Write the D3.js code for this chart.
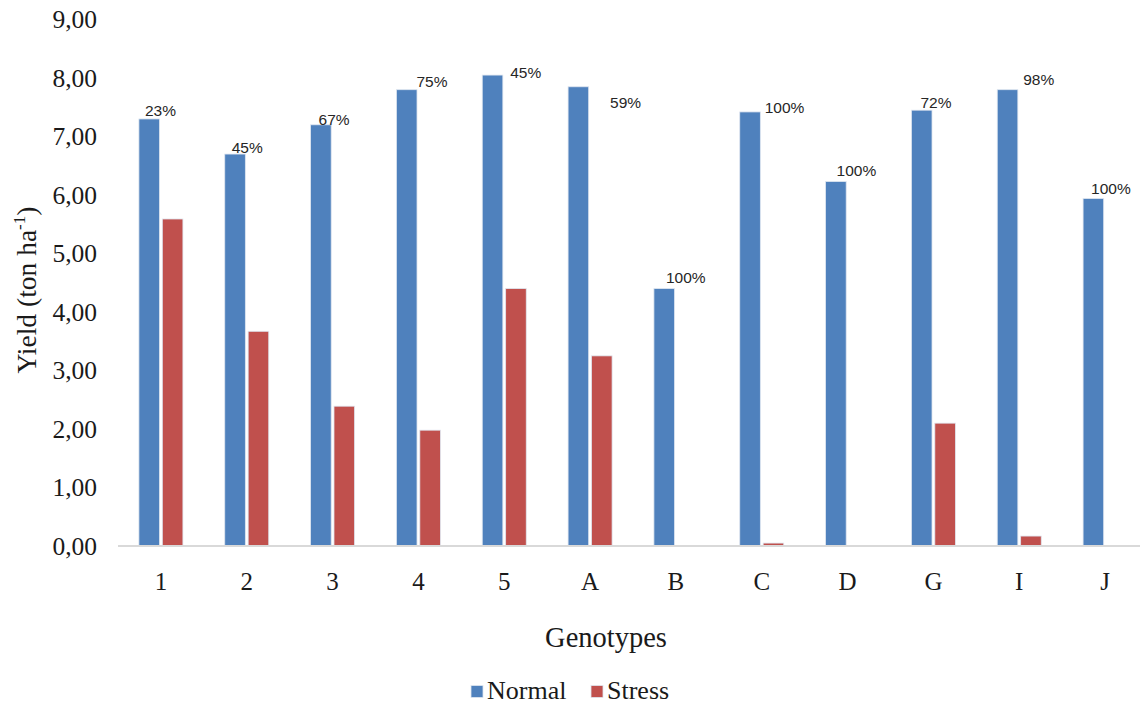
<!DOCTYPE html>
<html>
<head>
<meta charset="utf-8">
<script src="https://cdn.jsdelivr.net/npm/d3@7"></script>
<style>
  html, body { margin: 0; padding: 0; background: #ffffff; }
  svg { display: block; }
</style>
</head>
<body>
<svg id="chart" width="1140" height="704"></svg>
<script>
// Genotypes and yields (ton/ha) under normal and stress conditions
const genotypes = ["1", "2", "3", "4", "5", "A", "B", "C", "D", "G", "I", "J"];
const normalYield = [7.30, 6.70, 7.20, 7.80, 8.05, 7.85, 4.40, 7.42, 6.23, 7.45, 7.80, 5.94];
const stressYield = [5.59, 3.67, 2.39, 1.98, 4.40, 3.25, 0.00, 0.05, 0.00, 2.10, 0.17, 0.00];
// Yield reduction labels shown above the Normal bars
const reductionLabels = ["23%", "45%", "67%", "75%", "45%", "59%", "100%", "100%", "100%", "72%", "98%", "100%"];
const seriesNames = ["Normal", "Stress"];
const yTicks = [0, 1, 2, 3, 4, 5, 6, 7, 8, 9];

// Hand-placed label nudges (px) relative to the Normal bar's top-left corner
const labelNudge = [[6, -9], [7, -7], [8, -5], [20, -8], [28, -3], [42, 16],
                    [12, -11], [25, -5], [11, -11], [9, -8], [26, -10], [8, -10]];

const colors = { Normal: "#4F81BD", Stress: "#C0504D" };
const serif = "'Liberation Serif', 'Times New Roman', serif";

const svg = d3.select("#chart");
const plot = { left: 118, right: 1148, top: 19.5, bottom: 546 };

const x0 = d3.scaleBand().domain(genotypes).range([plot.left, plot.right]).padding(0);
const x1 = d3.scaleBand().domain(seriesNames).range([-22, 22]).paddingInner(0.12);
const y = d3.scaleLinear().domain([0, 9]).range([plot.bottom, plot.top]);

const rows = genotypes.map((g, i) => ({
  g, i, Normal: normalYield[i], Stress: stressYield[i], label: reductionLabels[i]
}));

// Bars
const groups = svg.append("g").selectAll("g")
  .data(rows).join("g")
  .attr("transform", d => `translate(${x0(d.g) + x0.bandwidth() / 2},0)`);

groups.selectAll("rect")
  .data(d => seriesNames.map(s => ({ s, v: d[s] })).filter(e => e.v > 0))
  .join("rect")
  .attr("x", e => x1(e.s))
  .attr("width", x1.bandwidth())
  .attr("y", e => y(e.v))
  .attr("height", e => y(0) - y(e.v))
  .attr("fill", e => colors[e.s])
  .attr("stroke", "#dfe6f0")
  .attr("stroke-width", 0.8);

// X axis baseline
svg.append("line")
  .attr("x1", plot.left).attr("x2", plot.right)
  .attr("y1", y(0)).attr("y2", y(0))
  .attr("stroke", "#d9d9d9").attr("stroke-width", 2);

// Y axis tick labels (no axis line)
const yAxis = d3.axisLeft(y).tickValues(yTicks).tickSize(0).tickPadding(0)
  .tickFormat(d => d3.format(".2f")(d).replace(".", ","));
const yg = svg.append("g").attr("transform", "translate(97,0)").call(yAxis);
yg.select(".domain").remove();
yg.selectAll("text")
  .attr("font-family", serif)
  .attr("font-size", 25.5).attr("fill", "#1a1a1a");

// X axis category labels
const xAxis = d3.axisBottom(x0).tickSize(0).tickPadding(0);
const xg = svg.append("g").attr("transform", `translate(0,${y(0) + 44})`).call(xAxis);
xg.select(".domain").remove();
xg.selectAll("text")
  .attr("dy", 0)
  .attr("font-family", serif)
  .attr("font-size", 25).attr("fill", "#1a1a1a");

// Reduction labels above Normal bars
svg.append("g").selectAll("text")
  .data(rows).join("text")
  .attr("x", d => x0(d.g) + x0.bandwidth() / 2 + x1("Normal") + labelNudge[d.i][0])
  .attr("y", d => y(d.Normal) + labelNudge[d.i][1])
  .attr("dy", "0.36em")
  .attr("font-family", "'Liberation Sans', Arial, sans-serif")
  .attr("font-size", 15.5).attr("fill", "#262626")
  .text(d => d.label);

// Axis titles
svg.append("text")
  .attr("x", 606).attr("y", 647)
  .attr("text-anchor", "middle")
  .attr("font-family", serif)
  .attr("font-size", 28.5).attr("fill", "#1a1a1a")
  .text("Genotypes");

const yt = svg.append("text")
  .attr("transform", "translate(36,290) rotate(-90)")
  .attr("text-anchor", "middle")
  .attr("font-family", serif)
  .attr("font-size", 27.5).attr("fill", "#1a1a1a");
yt.append("tspan").text("Yield (ton ha");
yt.append("tspan").attr("font-size", 17).attr("dy", -11).text("-1");
yt.append("tspan").attr("dy", 11).text(")");

// Legend
const legend = svg.append("g");
const legendItems = [{ s: "Normal", x: 471 }, { s: "Stress", x: 591 }];
legendItems.forEach(it => {
  legend.append("rect")
    .attr("x", it.x).attr("y", 685.5).attr("width", 12).attr("height", 12)
    .attr("fill", colors[it.s]).attr("stroke", "#dfe6f0").attr("stroke-width", 0.8);
  legend.append("text")
    .attr("x", it.x + 16).attr("y", 699)
    .attr("font-family", serif)
    .attr("font-size", 26).attr("fill", "#1a1a1a")
    .text(it.s);
});
</script>
</body>
</html>
